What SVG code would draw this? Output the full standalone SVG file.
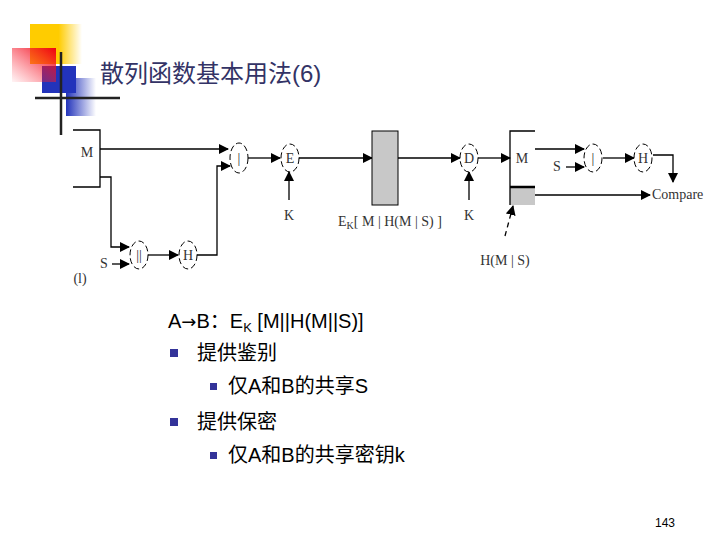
<svg xmlns="http://www.w3.org/2000/svg" width="720" height="540" viewBox="0 0 720 540">
<style>
.l{stroke:#000;stroke-width:1.3;fill:none}
.n{fill:#fff;stroke:#000;stroke-width:1;stroke-dasharray:6 3}
.d{font-family:"Liberation Serif",serif;font-size:14px;fill:#333}
.t{font-family:"Liberation Sans","Noto Sans CJK SC",sans-serif;font-size:20px;fill:#000}
.b{fill:#333399}
</style>
<defs>
<marker id="a" markerWidth="10" markerHeight="10" refX="9" refY="5" orient="auto" markerUnits="userSpaceOnUse"><path d="M0,0L10,5L0,10z"/></marker>
<linearGradient id="gy"><stop offset="0.55" stop-color="#ffcc00"/><stop offset="1" stop-color="#ffcc00" stop-opacity="0"/></linearGradient>
<linearGradient id="gr" x1="0" y1="1" x2="1" y2="0"><stop offset="0" stop-color="#ff3344" stop-opacity="0.05"/><stop offset="1" stop-color="#ee0011"/></linearGradient>
<linearGradient id="gb"><stop offset="0" stop-color="#2233bb"/><stop offset="1" stop-color="#2233bb" stop-opacity="0"/></linearGradient>
</defs>
<rect width="720" height="540" fill="#fff"/>
<g id="logo">
<rect x="30" y="24" width="52" height="40" fill="url(#gy)"/>
<rect x="42" y="66" width="34" height="27" fill="#2233bb"/>
<rect x="66" y="78" width="30" height="38" fill="url(#gb)"/>
<rect x="12" y="48" width="44" height="34" fill="url(#gr)"/>
<line x1="35" y1="98" x2="120" y2="98" stroke="#222" stroke-width="2.5"/>
<line x1="61" y1="52" x2="61" y2="135" stroke="#222" stroke-width="2.5"/>
</g>
<text x="100" y="82" font-family="Liberation Sans,'Noto Sans CJK SC',sans-serif" font-size="24" fill="#333366">散列函数基本用法(6)</text>
<g id="connectors">
<path class="l" d="M100,149H228" marker-end="url(#a)"/>
<path class="l" d="M100,177H111V247H129" marker-end="url(#a)"/>
<path class="l" d="M112,264H129" marker-end="url(#a)"/>
<path class="l" d="M148,255H178" marker-end="url(#a)"/>
<path class="l" d="M197,255H217V166H230" marker-end="url(#a)"/>
<path class="l" d="M248,158H280" marker-end="url(#a)"/>
<path class="l" d="M289,200V172" marker-end="url(#a)"/>
<path class="l" d="M299,158H372" marker-end="url(#a)"/>
<path class="l" d="M398,158H460" marker-end="url(#a)"/>
<path class="l" d="M469,200V172" marker-end="url(#a)"/>
<path class="l" d="M478,158H510" marker-end="url(#a)"/>
<path class="l" d="M535,149H584" marker-end="url(#a)"/>
<path class="l" d="M566,167H584" marker-end="url(#a)"/>
<path class="l" d="M603,158H634" marker-end="url(#a)"/>
<path class="l" d="M653,155H673V182" marker-end="url(#a)"/>
<path class="l" d="M535,195H650" marker-end="url(#a)"/>
<path class="l" d="M505,236L513,206" marker-end="url(#a)" stroke-dasharray="5 4"/>
</g>
<g id="M1"><path class="l" d="M73,130H100V187H73"/><text class="d" x="87" y="157" text-anchor="middle">M</text></g>
<g id="cat1"><ellipse class="n" cx="139" cy="255" rx="9" ry="14"/><text class="d" x="139" y="260" text-anchor="middle">||</text></g>
<text class="d" x="104" y="268" text-anchor="middle">S</text>
<text class="d" x="80" y="283" text-anchor="middle">(l)</text>
<g id="H1"><ellipse class="n" cx="188" cy="255" rx="9" ry="14"/><text class="d" x="188" y="260" text-anchor="middle">H</text></g>
<g id="cat2"><ellipse class="n" cx="239" cy="158" rx="9" ry="15"/><text class="d" x="239" y="163" text-anchor="middle">|</text></g>
<g id="E"><ellipse class="n" cx="290" cy="158" rx="9" ry="14"/><text class="d" x="290" y="163" text-anchor="middle">E</text></g>
<text class="d" x="289" y="220" text-anchor="middle">K</text>
<g id="msg"><rect x="372" y="131" width="26" height="74" fill="#c8c8c8" stroke="#000"/>
<text class="d" x="338" y="226">E<tspan font-size="10" dy="3">K</tspan><tspan dy="-3">[ M | H(M | S) ]</tspan></text></g>
<g id="D"><ellipse class="n" cx="469" cy="158" rx="9" ry="14"/><text class="d" x="469" y="163" text-anchor="middle">D</text></g>
<text class="d" x="469" y="220" text-anchor="middle">K</text>
<g id="M2"><rect x="510" y="187" width="25" height="18" fill="#c8c8c8"/><path class="l" d="M535,131H510V205"/><line x1="510" y1="187" x2="535" y2="187" stroke="#000" stroke-width="2.5"/><text class="d" x="522" y="163" text-anchor="middle">M</text></g>
<text class="d" x="505" y="265" text-anchor="middle">H(M | S)</text>
<text class="d" x="557" y="171" text-anchor="middle">S</text>
<g id="cat3"><ellipse class="n" cx="593" cy="158" rx="9" ry="14"/><text class="d" x="593" y="163" text-anchor="middle">|</text></g>
<g id="H2"><ellipse class="n" cx="643" cy="158" rx="9" ry="14"/><text class="d" x="643" y="163" text-anchor="middle">H</text></g>
<text class="d" x="652" y="199" font-size="12">Compare</text>
<g id="text">
<text class="t" x="168" y="328">A<tspan font-family="DejaVu Sans,sans-serif" font-size="18">→</tspan>B：E<tspan font-size="13" dy="4">K</tspan><tspan dy="-4"> [M||H(M||S)]</tspan></text>
<rect class="b" x="170" y="349" width="8" height="8"/>
<text class="t" x="197" y="360">提供鉴别</text>
<rect class="b" x="210" y="383" width="7" height="7"/>
<text class="t" x="228" y="393">仅A和B的共享S</text>
<rect class="b" x="170" y="418" width="8" height="8"/>
<text class="t" x="197" y="429">提供保密</text>
<rect class="b" x="210" y="452" width="7" height="7"/>
<text class="t" x="228" y="462">仅A和B的共享密钥k</text>
<text x="665" y="527" font-family="Liberation Sans,sans-serif" font-size="12" text-anchor="middle">143</text>
</g>
</svg>
